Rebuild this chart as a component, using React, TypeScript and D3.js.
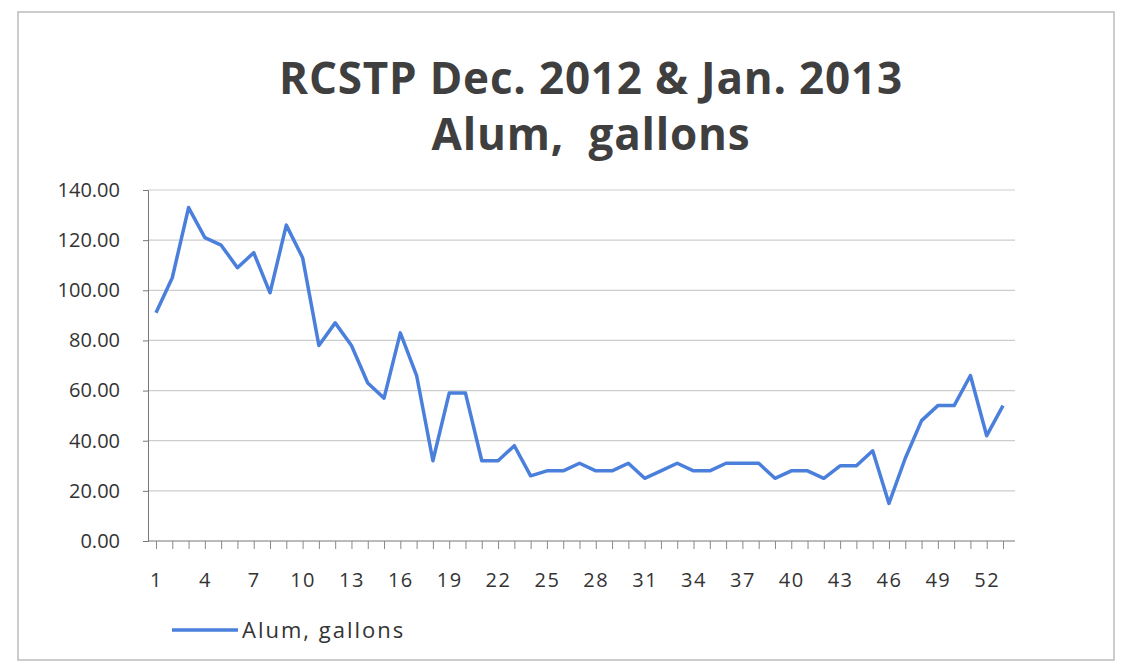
import { useEffect, useRef } from "react"
import * as d3 from "d3"

const titleLines = ["RCSTP Dec. 2012 & Jan. 2013", "Alum,  gallons"]
const seriesName = "Alum, gallons"
const yTicks = [0, 20, 40, 60, 80, 100, 120, 140]

// alum use per reading, 53 readings
const alum = [
  91, 105, 133, 121, 118, 109, 115, 99, 126, 113,
  78, 87, 78, 63, 57, 83, 66, 32, 59, 59,
  32, 32, 38, 26, 28, 28, 31, 28, 28, 31,
  25, 28, 31, 28, 28, 31, 31, 31, 25, 28,
  28, 25, 30, 30, 36, 15, 33, 48, 54, 54,
  66, 42, 54,
]
const days = alum.map((_, i) => i + 1)

export default function App() {
  const ref = useRef(null)

  useEffect(() => {
    const width = 1125, height = 669
    const left = 148, right = 1015, top = 190, bottom = 541
    const font = "'Open Sans', 'Noto Sans', sans-serif"

    const svg = d3.select(ref.current)
    svg.selectAll("*").remove()

    svg.append("rect")
      .attr("width", width).attr("height", height).attr("fill", "#fff")

    // chart frame
    svg.append("rect")
      .attr("x", 18).attr("y", 12).attr("width", 1096).attr("height", 648)
      .attr("fill", "none").attr("stroke", "#bcbcbc").attr("stroke-width", 1.5)

    const x = d3.scalePoint().domain(days).range([left + 8, right - 12])
    const y = d3.scaleLinear().domain([0, 140]).range([bottom, top])

    // title
    svg.append("g")
      .attr("font-family", font).attr("font-weight", "bold")
      .attr("font-size", 44).attr("fill", "#3f3f3f").attr("text-anchor", "middle")
      .selectAll("text").data(titleLines).join("text")
      .attr("x", 591).attr("y", (d, i) => 94 + i * 56)
      .attr("letter-spacing", 0.8)
      .attr("xml:space", "preserve")
      .text(d => d)

    // gridlines
    svg.append("g")
      .attr("stroke", "#cdcdcd").attr("stroke-width", 1.2)
      .selectAll("line").data(yTicks.filter(t => t > 0)).join("line")
      .attr("x1", left).attr("x2", right)
      .attr("y1", d => y(d)).attr("y2", d => y(d))

    // y axis
    const yAxis = d3.axisLeft(y).tickValues(yTicks).tickFormat(d3.format(".2f")).tickSize(5)
    svg.append("g")
      .attr("transform", `translate(${left},0)`)
      .call(yAxis)
      .call(g => g.selectAll("path, line").attr("stroke", "#777"))
      .call(g => g.selectAll("text")
        .attr("font-family", font).attr("font-size", 20).attr("fill", "#333")
        .attr("x", -28))

    // x axis: a tick per reading, a label every third
    const xAxis = d3.axisBottom(x)
      .tickSize(8)
      .tickFormat(d => (d - 1) % 3 === 0 ? String(d) : "")
    svg.append("g")
      .attr("transform", `translate(0,${bottom})`)
      .call(xAxis)
      .call(g => g.select(".domain").attr("d", `M${left},0H${right}`).attr("stroke", "#777"))
      .call(g => g.selectAll("line").attr("stroke", "#888"))
      .call(g => g.selectAll("text")
        .attr("font-family", font).attr("font-size", 20).attr("fill", "#333")
        .attr("letter-spacing", 1.5)
        .attr("dy", "1.75em"))

    const line = d3.line().x((d, i) => x(days[i])).y(d => y(d))
    svg.append("path")
      .datum(alum)
      .attr("d", line)
      .attr("fill", "none")
      .attr("stroke", "#4a7fdc")
      .attr("stroke-width", 3.5)
      .attr("stroke-linejoin", "round")

    // legend
    const lg = svg.append("g").attr("transform", "translate(172,630)")
    lg.append("line").attr("x1", 0).attr("x2", 66)
      .attr("stroke", "#4a7fdc").attr("stroke-width", 3.5)
    lg.append("text").attr("x", 70).attr("y", 8)
      .attr("font-family", font).attr("font-size", 22).attr("fill", "#333")
      .attr("letter-spacing", 2)
      .text(seriesName)
  }, [])

  return (
    <svg ref={ref} width={1125} height={669}
      style={{ position: "absolute", left: 0, top: 0, display: "block" }} />
  )
}
